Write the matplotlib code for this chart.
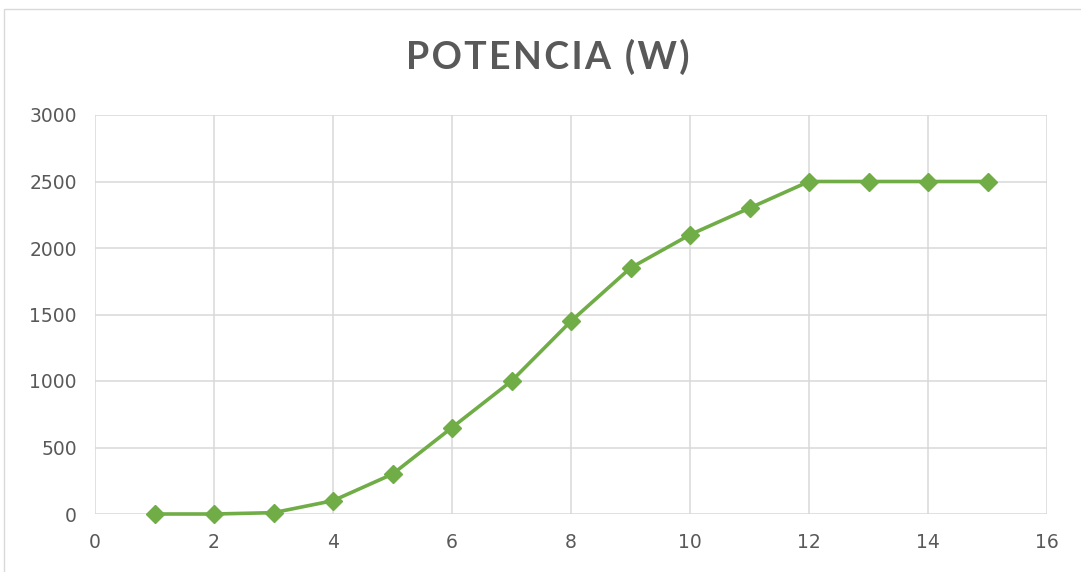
import matplotlib.pyplot as plt
from matplotlib.patches import Rectangle

x_vals = [1, 2, 3, 4, 5, 6, 7, 8, 9, 10, 11, 12, 13, 14, 15]
potencia = [0, 0, 10, 100, 300, 650, 1000, 1450, 1850, 2100, 2300, 2500, 2500, 2500, 2500]
x_ticks = [0, 2, 4, 6, 8, 10, 12, 14, 16]
y_ticks = [0, 500, 1000, 1500, 2000, 2500, 3000]
title = "POTENCIA (W)"

fig = plt.figure(figsize=(10.81, 5.72), dpi=100)
fig.patches.append(Rectangle((4 / 1081, -0.1), 1.2, 1 - 9 / 572 + 0.1,
                             transform=fig.transFigure, fill=False,
                             edgecolor="#d9d9d9", linewidth=1))

ax = fig.add_axes([95 / 1081, (572 - 514) / 572, (1047 - 95) / 1081, (514 - 115) / 572])
ax.plot(x_vals, potencia, color="#70ad47", linewidth=2.6, marker="D",
        markersize=9, zorder=3, clip_on=False)

ax.set_xlim(0, 16)
ax.set_ylim(0, 3000)
ax.set_xticks(x_ticks)
ax.set_yticks(y_ticks)
ax.grid(True, color="#d9d9d9", linewidth=1.1)
for s in ax.spines.values():
    s.set_visible(False)
ax.tick_params(length=0, labelsize=13.5, colors="#595959", pad=13)
ax.tick_params(axis="x", pad=14)

# spaced title, like Excel's default chart title
spaced = "\u200a".join(title)
fig.text(548 / 1081, 1 - 57 / 572, spaced, ha="center", va="center",
         fontsize=27, fontweight="bold", color="#595959", family="Lato")

fig.savefig("out.png", dpi=100)
